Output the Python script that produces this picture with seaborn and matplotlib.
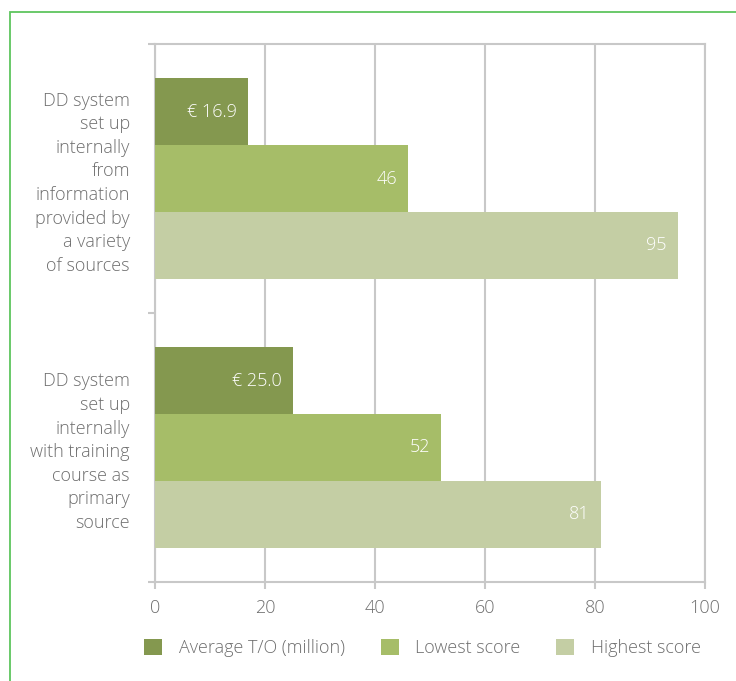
import matplotlib
matplotlib.use("Agg")
import matplotlib.pyplot as plt
import seaborn as sns
import pandas as pd
from matplotlib.patches import Patch, Rectangle
from matplotlib.ticker import FixedLocator

categories = [
    "DD system\nset up\ninternally\nfrom\ninformation\nprovided by\na variety\nof sources",
    "DD system\nset up\ninternally\nwith training\ncourse as\nprimary\nsource",
]
series = ["Average T/O (million)", "Lowest score", "Highest score"]
average_to = [16.9, 25.0]
lowest_score = [46, 52]
highest_score = [95, 81]
x_ticks = [0, 20, 40, 60, 80, 100]

colors = ["#84984f", "#a6bd68", "#c4cea4"]
text_gray = "#6e6e6e"
grid_gray = "#c8c8c8"
FS = 13

rows = []
for s, vals in zip(series, [average_to, lowest_score, highest_score]):
    for c, v in zip(categories, vals):
        rows.append({"category": c, "series": s, "value": v})
df = pd.DataFrame(rows)

sns.set_theme(style="white")
plt.rcParams["font.family"] = ["Open Sans", "DejaVu Sans"]
plt.rcParams["font.weight"] = "light"

fig = plt.figure(figsize=(7.36, 6.81), dpi=100)
ax = fig.add_axes([155 / 736, 1 - 582 / 681, 550 / 736, 538 / 681])

sns.barplot(data=df, y="category", x="value", hue="series", order=categories,
            hue_order=series, palette=colors, orient="h", width=0.745, gap=0,
            saturation=1, ax=ax, legend=False, zorder=3, linewidth=0,
            edgecolor="none")

ax.set_xlim(0, 100)
ax.set_ylim(1.5, -0.5)
ax.set_xticks(x_ticks)
ax.set_xticklabels([str(t) for t in x_ticks])
ax.xaxis.grid(True, color=grid_gray, lw=1.5, zorder=0)
ax.set_axisbelow(True)
ax.set_xlabel("")
ax.set_ylabel("")

# category labels at centres, tick marks at boundaries
ax.set_yticks([0, 1])
ax.set_yticklabels(categories, ha="right", fontsize=FS, color=text_gray,
                   linespacing=1.4)
ax.yaxis.set_minor_locator(FixedLocator([-0.5, 0.5, 1.5]))
ax.tick_params(axis="y", which="major", length=0, pad=18)
ax.tick_params(axis="y", which="minor", length=5, width=1.5, color=grid_gray,
               left=True)
ax.tick_params(axis="x", which="major", length=5, width=1.5, color=grid_gray,
               bottom=True, labelsize=FS, labelcolor=text_gray, pad=7)

for sp in ax.spines.values():
    sp.set_visible(True)
    sp.set_color(grid_gray)
    sp.set_linewidth(1.5)

# value labels inside bar ends
for i, cont in enumerate(ax.containers):
    if i == 0:
        labels = ["€ {:.1f}".format(v) for v in average_to]
    elif i == 1:
        labels = ["{:g}".format(v) for v in lowest_score]
    else:
        labels = ["{:g}".format(v) for v in highest_score]
    ax.bar_label(cont, labels=labels, label_type="edge", padding=-8,
                 color="white", fontsize=FS)
for t in ax.texts:
    t.set_ha("right")

handles = [Patch(facecolor=c, edgecolor="none") for c in colors]
fig.legend(handles, series, loc="center", bbox_to_anchor=(0.574, 1 - 648 / 681),
           ncol=3, frameon=False, fontsize=FS, labelcolor=text_gray,
           handlelength=1.0, handleheight=1.0, handletextpad=0.9,
           columnspacing=2.0)

# green frame (top and left visible)
fig.patches.append(Rectangle((10 / 736, -0.1), 1.2, (1 - 12 / 681) + 0.1,
                             transform=fig.transFigure, fill=False,
                             edgecolor="#5ec55e", lw=1.3, zorder=10))

fig.savefig("out.png", dpi=100)
